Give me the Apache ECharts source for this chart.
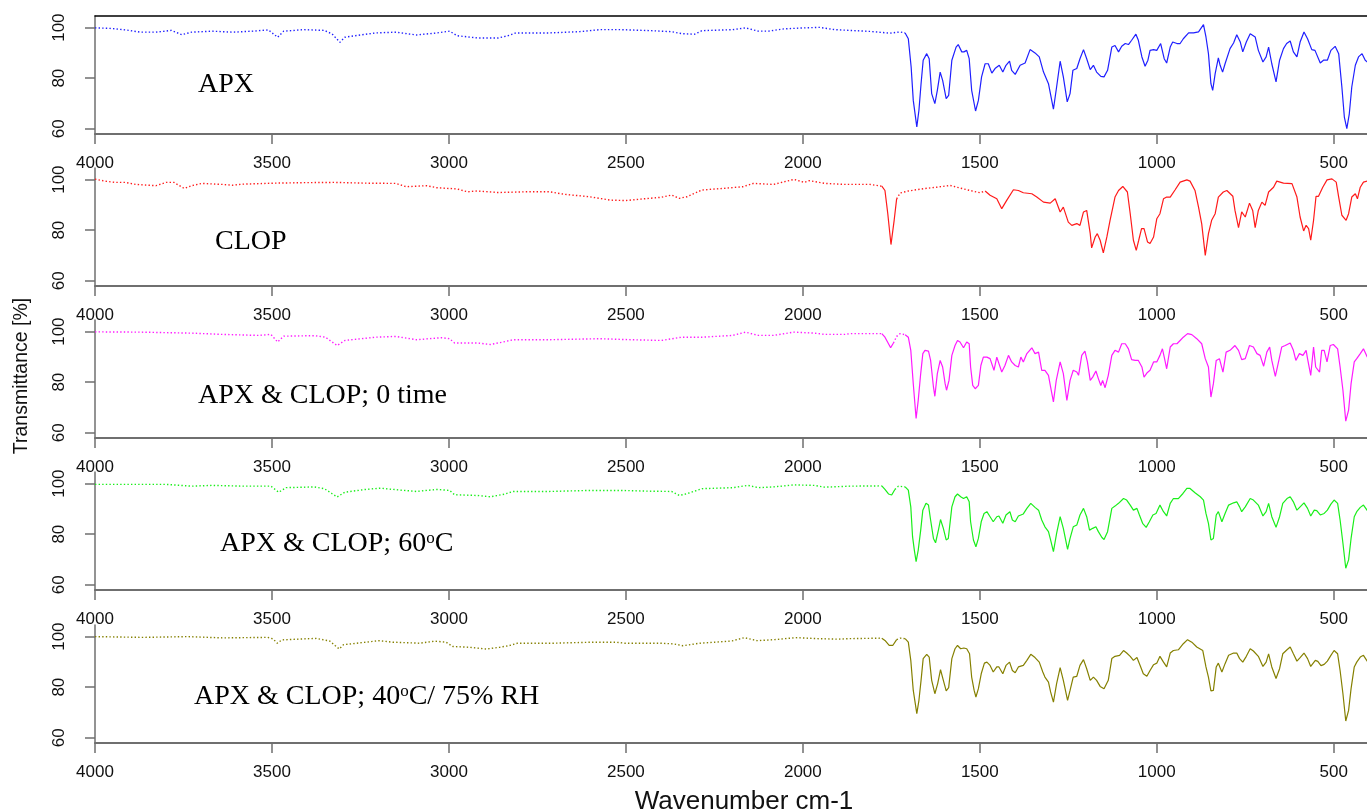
<!DOCTYPE html>
<html><head><meta charset="utf-8">
<script src="https://cdn.jsdelivr.net/npm/echarts@6/dist/echarts.min.js"></script>
<style>html,body{margin:0;padding:0;background:#fff}#c{width:1367px;height:810px}</style>
</head><body><div id="c"></div>
<script>
// ---- tick labels ----
const xTicks = [4000, 3500, 3000, 2500, 2000, 1500, 1000, 500];
const yTicks = [60, 80, 100];
const yAxisTitle = 'Transmittance [%]';
const xAxisTitle = 'Wavenumber cm-1';
const panelNames = ['APX', 'CLOP', 'APX & CLOP; 0 time', 'APX & CLOP; 60{s|o}C', 'APX & CLOP; 40{s|o}C/ 75% RH'];

// ---- spectra: wavenumber (cm-1) and transmittance (%) ----
const apxWn = [4000,3957,3914,3871,3828,3784,3755,3727,3669,3611,3554,3510,3484,3467,3409,3352,3330,3308,3294,3265,3207,3150,3092,3034,2998,2977,2919,2861,2833,2811,2717,2631,2573,2515,2429,2371,2342,2306,2285,2198,2162,2126,2097,2054,1996,1953,1910,
1867,1810,1754,1725,1711,1702,1694,1688,1678,1672,1666,1660,1650,1643,1636,1627,1620,1612,1605,1595,1588,1579,1567,1561,1551,1545,1537,1530,1523,1512,1504,1495,1485,1476,1466,1457,1445,1435,1426,1416,1410,1400,1386,1372,1358,1344,1332,1320,1306,1292,1283,1273,1264,1253,1245,1237,1226,1217,1207,1198,1188,1179,1170,1158,1149,1139,1127,1118,1108,1099,1089,1080,1071,1059,1052,1042,1033,1025,1019,1009,1000,989,979,972,962,955,943,934,925,910,896,882,868,861,854,847,842,835,826,821,814,807,793,783,774,764,757,747,736,722,713,700,691,684,675,663,653,642,633,623,614,604,595,584,574,562,553,538,529,518,508,496,486,477,470,463,456,449,439,430,420,411,405];
const apxT = [99.9,99.7,99.1,98.2,98.2,98.9,97.2,98.2,98.6,98.2,98.6,99.1,96.2,98.6,99.2,98.9,97.5,94.2,96.2,96.8,97.9,98.2,97.1,97.9,98.6,96.8,95.9,95.9,96.8,97.9,97.9,98.4,99.2,99.2,98.8,98.4,97.6,97.4,98.8,99.2,99.9,98.6,98.6,99.5,99.9,100.1,99.2,
98.9,98.5,97.8,98.3,97.9,95.6,84.4,71.2,60.7,67.3,77.8,87.1,89.7,87.7,73.9,69.9,75.2,82.4,79.1,71.9,73.2,87.1,92.3,93.3,90.4,90.4,91.0,87.7,75.2,67.0,71.2,80.5,85.7,85.7,82.0,83.8,85.1,82.4,85.1,86.7,83.1,81.5,85.1,86.0,91.3,90.0,88.4,82.4,77.8,67.7,76.5,86.7,80.5,70.6,73.9,83.1,83.8,87.7,91.3,87.7,83.4,85.1,82.4,80.7,80.5,83.1,92.3,92.9,90.4,92.6,93.7,93.3,95.0,97.4,95.0,88.4,84.7,87.1,91.0,91.3,91.0,93.7,87.7,86.0,92.3,94.3,93.7,93.7,95.6,97.9,97.9,98.3,101.2,96.3,89.7,77.8,75.2,81.8,88.0,85.1,82.4,85.7,91.7,93.9,97.2,94.3,90.4,94.3,97.6,96.3,91.0,86.4,88.4,92.3,85.7,78.5,87.1,91.7,93.7,94.7,90.4,88.4,94.3,98.3,95.6,91.3,91.0,86.0,87.1,87.1,91.0,92.6,89.7,76.5,64.6,60.0,65.9,76.5,85.1,88.4,89.7,87.1,86.4];

const clopWn = [4000,3972,3943,3914,3885,3828,3799,3777,3748,3727,3698,3640,3611,3582,3496,3409,3323,3236,3150,3121,3063,3034,2977,2948,2919,2861,2775,2717,2674,2602,2544,2501,2458,2400,2371,2349,2328,2285,2227,2169,2140,2083,2025,1996,1982,1938,1881,1823,
1810,1777,1768,1760,1751,1742,1735,1725,1702,1660,1622,1584,1565,1528,1499,1485,1471,1452,1438,1424,1405,1391,1377,1353,1339,1320,1301,1287,1273,1264,1250,1240,1226,1217,1207,1198,1188,1184,1174,1168,1160,1151,1141,1132,1118,1108,1096,1083,1075,1066,1058,1051,1043,1036,1026,1019,1009,1000,991,981,972,962,948,934,915,906,892,882,873,863,854,845,835,826,812,802,785,779,769,760,750,738,729,722,713,703,694,684,670,661,642,618,604,595,585,578,571,565,557,550,543,531,519,505,493,486,477,465,458,449,439,433,425,416,405];
const clopT = [100.2,99.4,98.9,98.9,98.1,97.6,98.9,98.9,96.5,97.6,98.5,98.1,97.8,98.2,98.6,98.8,98.9,98.6,98.5,97.2,97.6,96.8,96.3,95.2,95.5,94.9,95.2,95.2,94.2,93.2,91.9,91.7,92.3,93.0,93.9,92.6,93.2,95.9,96.5,97.2,98.5,98.1,100.1,98.9,99.6,98.5,98.1,98.1,
98.1,97.4,95.7,86.5,74.3,83.9,92.4,94.7,95.5,96.4,97.0,97.7,97.0,95.7,94.8,95.5,93.8,92.4,88.5,91.8,96.0,95.7,94.8,94.4,93.1,91.1,90.7,92.4,87.2,89.1,83.2,81.9,82.6,81.9,87.2,87.8,78.6,73.0,77.3,78.6,76.0,71.0,77.3,83.9,93.1,95.7,97.3,95.1,86.5,76.0,72.0,76.0,80.6,80.6,75.3,74.7,77.3,84.5,86.5,92.4,93.1,93.1,96.0,99.0,99.9,99.4,95.7,89.1,82.5,70.0,78.6,83.9,86.5,93.1,95.1,95.7,93.4,87.8,81.0,87.2,85.2,90.7,87.8,81.0,87.8,91.1,89.8,95.1,97.0,99.4,98.6,98.4,93.1,85.2,79.7,81.9,80.6,76.0,83.9,93.4,93.4,97.0,99.9,100.3,99.0,93.1,85.9,83.9,86.5,93.1,94.4,92.4,97.0,99.0,99.4];

const mix0Wn = [4000,3871,3727,3640,3539,3503,3484,3467,3380,3349,3330,3316,3294,3207,3150,3092,3020,2998,2984,2919,2883,2847,2818,2717,2573,2487,2400,2342,2285,2198,2162,2126,2083,2025,1967,1938,1881,
1867,1777,1768,1758,1752,1744,1735,1725,1711,1702,1695,1688,1680,1674,1667,1661,1655,1645,1639,1631,1627,1620,1612,1605,1598,1594,1587,1579,1570,1563,1556,1546,1537,1530,1526,1520,1513,1504,1497,1490,1480,1471,1460,1452,1447,1438,1429,1419,1410,1400,1391,1384,1377,1367,1353,1344,1334,1325,1316,1306,1300,1292,1284,1273,1264,1254,1245,1236,1226,1221,1212,1203,1196,1188,1181,1172,1165,1158,1153,1146,1137,1127,1118,1108,1099,1089,1080,1071,1061,1052,1042,1036,1028,1019,1009,1000,991,984,978,972,962,953,943,934,925,913,901,887,873,863,854,847,840,832,823,813,804,793,779,769,760,750,738,727,717,708,698,689,681,675,665,656,647,637,623,614,607,597,587,578,574,565,557,551,540,534,527,519,510,501,489,482,474,466,458,451,442,435,425,416,405];
const mix0T = [99.9,99.8,99.4,98.9,98.5,98.9,95.9,98.2,98.4,97.8,95.9,94.5,96.5,97.8,98.1,96.8,97.6,97.2,95.5,95.5,94.9,95.9,96.8,96.8,97.2,96.8,96.5,97.8,97.8,98.5,99.8,98.5,98.5,99.8,99.4,98.9,98.9,
99.2,99.2,97.8,95.2,93.6,95.5,98.1,99.2,98.8,97.8,92.6,79.4,65.6,72.8,83.4,91.3,92.6,92.3,88.6,78.1,74.4,83.4,88.6,86.0,79.4,76.8,80.7,90.6,94.5,96.5,95.9,93.6,95.9,95.2,86.0,78.7,77.4,78.7,86.6,89.9,89.9,89.3,84.7,89.9,90.6,84.0,86.6,90.6,88.0,86.6,86.0,89.9,88.0,91.3,93.6,91.3,91.9,84.7,84.7,82.7,78.1,72.2,80.7,88.0,83.4,72.8,80.7,84.7,84.0,82.7,90.6,92.3,88.0,80.7,82.0,84.4,81.4,78.7,80.7,77.8,82.7,90.6,92.6,91.9,95.2,95.2,93.2,88.9,88.6,88.6,86.0,82.0,83.6,84.7,88.0,88.0,90.6,93.2,89.3,85.3,93.9,95.2,95.2,96.5,97.8,99.2,98.8,97.2,95.2,89.3,86.0,74.1,79.4,88.6,89.3,84.0,91.9,92.6,94.5,92.6,88.9,89.3,94.5,93.9,91.3,90.6,86.3,91.9,93.9,88.6,82.3,88.0,93.9,94.5,95.5,92.6,88.6,91.3,90.6,92.6,89.3,82.7,93.9,86.0,84.0,92.6,92.6,88.0,94.5,94.9,93.2,86.0,76.8,64.6,68.9,79.4,88.0,89.3,91.3,93.2,89.9];

const mix60Wn = [4000,3799,3727,3669,3582,3503,3481,3460,3380,3352,3330,3316,3294,3236,3193,3150,3092,3034,2998,2984,2919,2883,2847,2818,2717,2602,2515,2429,2371,2349,2328,2285,2198,2155,2126,2083,2025,1967,1938,1881,
1867,1777,1768,1758,1749,1740,1730,1711,1702,1695,1690,1685,1680,1674,1667,1661,1652,1645,1639,1631,1625,1617,1611,1603,1595,1589,1579,1570,1563,1554,1546,1537,1530,1526,1518,1511,1504,1496,1488,1480,1471,1462,1452,1446,1435,1426,1415,1408,1400,1391,1377,1367,1356,1344,1334,1325,1316,1306,1300,1292,1283,1273,1264,1252,1245,1236,1226,1217,1207,1198,1190,1181,1172,1165,1155,1149,1139,1127,1118,1108,1094,1085,1075,1066,1056,1049,1040,1030,1021,1011,1002,991,981,972,962,953,939,926,915,906,892,877,868,861,854,847,840,832,826,816,807,797,783,774,766,760,750,736,727,713,700,691,684,675,663,653,644,632,623,614,604,595,584,574,565,555,548,538,527,518,508,499,489,482,474,466,458,451,442,435,425,416,405];
const mix60T = [99.7,99.7,99.0,99.3,99.0,99.0,96.6,98.4,98.7,98.0,96.0,94.7,96.6,97.7,98.2,97.6,96.9,97.7,97.3,95.6,95.3,94.8,95.7,96.9,96.9,97.3,97.3,97.0,96.9,95.3,96.0,98.0,98.4,99.3,98.4,98.7,99.5,99.3,98.6,98.9,
99.0,99.1,97.7,95.9,95.5,97.7,99.0,98.7,97.4,90.8,79.0,73.7,69.1,73.7,81.6,89.5,92.2,91.5,85.6,78.3,76.6,81.6,85.8,82.3,77.7,78.3,90.8,94.8,95.9,94.8,94.1,94.8,92.8,84.9,77.7,75.0,78.3,84.9,88.2,88.9,86.9,84.9,86.9,87.2,84.3,87.6,88.9,85.6,84.9,87.2,88.0,90.2,92.2,90.6,89.5,85.6,82.9,81.0,77.7,73.1,80.3,86.9,82.3,74.0,78.3,82.9,83.6,87.6,90.2,86.9,81.6,82.3,82.9,81.0,78.7,77.9,81.0,90.2,91.1,92.2,94.1,93.5,91.5,89.5,90.2,87.6,84.3,82.7,84.9,87.6,88.2,91.5,88.9,87.2,92.2,94.1,94.1,96.1,98.1,98.1,96.4,94.8,93.5,88.2,84.3,77.7,78.3,87.6,88.9,84.9,88.2,91.5,92.4,92.8,90.8,88.9,90.8,94.1,93.5,91.5,87.2,88.9,92.2,86.9,82.7,86.9,92.2,94.1,94.8,92.8,89.5,90.8,92.4,90.2,87.2,89.5,89.3,87.6,88.2,89.5,91.9,93.5,92.2,85.6,76.4,66.5,69.8,78.3,86.9,88.9,90.6,91.5,89.3];

const mix40Wn = [4000,3866,3739,3638,3512,3497,3485,3472,3411,3374,3336,3321,3310,3298,3260,3197,3159,3083,3039,3008,2989,2944,2894,2856,2831,2806,2705,2591,2528,2503,2402,2364,2339,2291,2250,2200,2165,2130,2080,2020,1960,1900,
1867,1777,1768,1756,1746,1735,1725,1711,1702,1695,1688,1678,1672,1666,1660,1650,1643,1636,1627,1619,1611,1603,1595,1588,1579,1570,1563,1554,1545,1537,1529,1523,1516,1511,1504,1496,1487,1480,1471,1462,1452,1446,1435,1426,1416,1408,1400,1391,1377,1367,1356,1344,1332,1322,1316,1306,1300,1292,1283,1273,1264,1252,1245,1236,1226,1217,1207,1198,1188,1179,1170,1160,1149,1137,1127,1118,1105,1094,1085,1075,1066,1056,1047,1038,1028,1019,1009,1000,991,981,972,962,953,939,925,913,901,887,870,861,854,847,840,832,826,816,807,797,783,774,766,757,747,736,727,713,700,691,684,675,663,653,644,632,623,614,604,595,584,574,565,552,545,536,527,518,508,499,489,482,474,466,458,451,442,435,425,416,405];
const mix40T = [100.0,99.7,100.0,99.5,99.7,99.1,97.4,98.7,99.1,99.3,98.2,96.4,95.1,96.8,97.4,98.4,97.8,97.4,98.2,97.8,96.1,95.8,95.1,95.8,96.4,97.4,97.4,97.8,97.8,97.4,97.4,97.1,96.4,97.4,97.8,98.3,99.6,98.4,98.8,99.6,99.2,99.0,
99.2,99.4,98.5,96.5,96.5,98.8,99.4,99.2,97.8,90.6,78.7,69.5,74.8,82.7,91.3,93.0,91.9,82.7,77.4,81.4,86.9,82.7,78.5,79.8,91.3,95.2,96.5,95.2,95.5,95.2,93.2,84.0,78.7,76.1,79.4,85.3,89.5,89.9,88.6,86.0,88.0,88.0,85.3,88.6,89.9,86.6,85.7,88.0,88.6,90.6,93.0,91.7,89.9,86.0,84.0,82.0,78.1,74.1,81.4,87.7,82.7,74.8,78.7,84.0,84.3,88.6,90.9,87.3,82.7,84.0,82.7,80.3,79.4,82.7,91.3,92.2,92.6,94.5,93.5,92.2,90.6,91.7,88.6,85.3,84.3,86.6,88.9,89.5,92.2,89.9,88.0,93.5,94.5,94.8,97.2,98.8,97.8,95.9,94.5,88.0,84.0,78.5,78.7,88.0,89.5,86.0,89.3,92.6,93.5,93.5,91.3,89.9,92.2,95.2,94.3,92.2,88.2,89.9,93.2,88.0,83.4,87.3,93.2,94.8,95.9,93.2,90.3,91.7,93.5,91.3,88.2,90.6,90.2,88.5,89.0,90.3,92.6,94.5,93.2,86.6,77.4,66.6,70.8,79.4,88.0,89.9,91.9,92.6,90.2];

const spectra = [
  { wn: apxWn,   t: apxT,   color: '#1f1fff', dotted: [[4000, 1711]] },
  { wn: clopWn,  t: clopT,  color: '#ff1a1a', dotted: [[4000, 1777], [1725, 1485]] },
  { wn: mix0Wn,  t: mix0T,  color: '#ff1aff', dotted: [[4000, 1777], [1735, 1711]] },
  { wn: mix60Wn, t: mix60T, color: '#1aee1a', dotted: [[4000, 1777], [1730, 1711]] },
  { wn: mix40Wn, t: mix40T, color: '#858000', dotted: [[4000, 1777], [1725, 1711]] }
];

// ---- layout ----
const gridTops = [16, 168, 320, 472, 625];
const gridH = 118;
const yMin = 57.9, yMax = 104.6;
const xMin = 406, xMax = 4000;
const SANS = '"Liberation Sans", Arial, sans-serif';
const SERIF = '"Liberation Serif", "Times New Roman", serif';
const axisGray = '#6f6f6f';
const labelPos = [[198, 85], [215, 242], [198, 396], [220, 544], [194, 697]];

function runs(wn, t, ranges) {
  const isDot = w => ranges.some(r => w <= r[0] && w >= r[1]);
  const out = []; let cur = null;
  for (let k = 0; k < wn.length; k++) {
    const d = isDot(wn[k]);
    const p = [wn[k], t[k]];
    if (!cur || cur.dotted !== d) {
      const nr = { dotted: d, pts: cur ? [cur.pts[cur.pts.length - 1]] : [] };
      out.push(nr); cur = nr;
    }
    cur.pts.push(p);
  }
  return out;
}

const grids = [], xAxes = [], yAxes = [], series = [], graphics = [];
spectra.forEach((s, i) => {
  grids.push({ left: 95, right: 0, top: gridTops[i], height: gridH, containLabel: false });
  xAxes.push({
    gridIndex: i, type: 'value', min: xMin, max: xMax, inverse: true,
    axisLine: { show: true, lineStyle: { color: axisGray, width: 2 } },
    axisTick: { show: true, customValues: xTicks, length: 10, lineStyle: { color: axisGray, width: 1.5 } },
    axisLabel: { show: true, customValues: xTicks, formatter: v => String(v), fontSize: 17, fontFamily: SANS, color: '#111', margin: 21 },
    splitLine: { show: false }
  });
  yAxes.push({
    gridIndex: i, type: 'value', min: yMin, max: yMax,
    axisLine: { show: true, lineStyle: { color: axisGray, width: 1.5 } },
    axisTick: { show: true, customValues: yTicks, length: 10, lineStyle: { color: axisGray, width: 1.5 } },
    axisLabel: { show: true, customValues: yTicks, formatter: v => String(v), rotate: 90, fontSize: 17, fontFamily: SANS, color: '#111', margin: 27 },
    splitLine: { show: false }
  });
  runs(s.wn, s.t, s.dotted).forEach(r => {
    series.push({
      type: 'line', xAxisIndex: i, yAxisIndex: i, data: r.pts, showSymbol: false, silent: true,
      lineStyle: { color: s.color, width: r.dotted ? 1.4 : 1.2, type: r.dotted ? [1.4, 2.2] : 'solid' },
      clip: true
    });
  });
  graphics.push({
    type: 'text', x: labelPos[i][0], y: labelPos[i][1],
    style: {
      text: panelNames[i], fontSize: 28, fontFamily: SERIF, fill: '#000', align: 'left', verticalAlign: 'middle',
      rich: { s: { fontSize: 17, fontFamily: SERIF, fill: '#000', verticalAlign: 'top' } }
    }
  });
});
// top frame of first panel
xAxes.push({
  gridIndex: 0, type: 'value', min: xMin, max: xMax, inverse: true, position: 'top',
  axisLine: { show: true, lineStyle: { color: '#000', width: 1.5 } },
  axisTick: { show: false }, axisLabel: { show: false }, splitLine: { show: false }
});
graphics.push({
  type: 'text', x: 22, y: 376, rotation: Math.PI / 2,
  style: { text: yAxisTitle, fontSize: 19.5, fontFamily: SANS, fill: '#111', align: 'center', verticalAlign: 'middle' }
});
graphics.push({
  type: 'text', x: 744, y: 789,
  style: { text: xAxisTitle, fontSize: 26, fontFamily: SANS, fill: '#111', align: 'center', verticalAlign: 'top' }
});

const chart = echarts.init(document.getElementById('c'), null, { renderer: 'canvas' });
chart.setOption({
  animation: false,
  backgroundColor: '#fff',
  grid: grids, xAxis: xAxes, yAxis: yAxes, series: series, graphic: graphics
});
</script></body></html>
